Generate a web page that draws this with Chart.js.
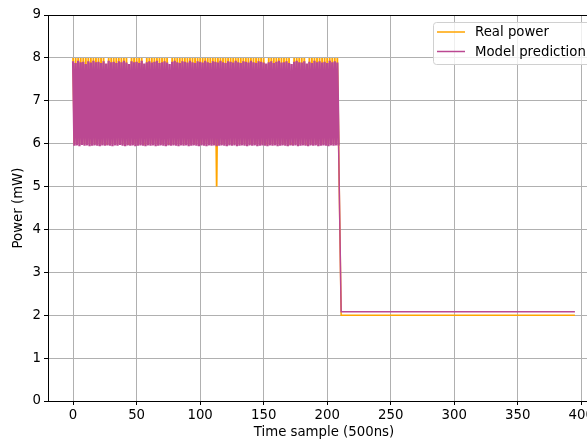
<!DOCTYPE html>
<html>
<head>
<meta charset="utf-8">
<script src="https://cdn.jsdelivr.net/npm/chart.js@4/dist/chart.umd.min.js"></script>
<style>
  html, body { margin: 0; padding: 0; background: #fff; overflow: hidden; }
  #wrap { width: 587px; height: 441px; overflow: hidden; }
</style>
</head>
<body>
<div id="wrap"><canvas id="chart" width="620" height="441"></canvas></div>
<script>
// samples 0..209, one value per sample
const realPower = [
    8, 6, 8, 6, 8, 6, 8, 6, 8, 6, 8, 6, 8, 6, 8, 6, 8, 6, 8, 6,
    8, 6, 8, 6, 8, 6, 6, 6, 8, 6, 8, 6, 8, 6, 8, 6, 8, 6, 8, 6,
    8, 6, 8, 6, 6, 6, 8, 6, 8, 6, 8, 6, 8, 6, 8, 6, 6, 6, 8, 6,
    8, 6, 8, 6, 8, 6, 8, 6, 8, 6, 8, 6, 8, 6, 8, 6, 6, 6, 8, 6,
    8, 6, 8, 6, 8, 6, 8, 6, 8, 6, 8, 6, 8, 6, 8, 6, 8, 6, 8, 6,
    8, 6, 8, 6, 8, 6, 8, 6, 8, 6, 8, 6, 8, 5, 8, 6, 8, 6, 8, 6,
    8, 6, 8, 6, 8, 6, 8, 6, 8, 6, 8, 6, 8, 6, 8, 6, 8, 6, 8, 6,
    8, 6, 8, 6, 8, 6, 8, 6, 8, 6, 8, 6, 6, 6, 8, 6, 8, 6, 8, 6,
    8, 6, 8, 6, 8, 6, 8, 6, 8, 6, 8, 6, 6, 6, 8, 6, 8, 6, 8, 6,
    8, 6, 8, 6, 6, 6, 8, 6, 8, 6, 8, 6, 8, 6, 8, 6, 8, 6, 8, 6,
    8, 6, 8, 6, 8, 6, 8, 6, 8, 6,
];
const modelPrediction = [
    7.92, 5.95, 7.88, 5.96, 7.93, 5.94, 7.90, 5.97, 7.91, 5.95, 7.86, 5.96, 7.92, 5.94, 7.89, 5.95, 7.93, 5.96, 7.90, 5.95,
    7.91, 5.94, 7.88, 5.96, 7.92, 5.95, 7.87, 5.96, 7.93, 5.95, 7.90, 5.94, 7.91, 5.96, 7.88, 5.95, 7.92, 5.97, 7.90, 5.95,
    7.93, 5.94, 7.89, 5.96, 7.86, 5.95, 7.92, 5.96, 7.90, 5.94, 7.91, 5.95, 7.88, 5.96, 7.93, 5.95, 7.87, 5.94, 7.90, 5.96,
    7.92, 5.95, 7.89, 5.96, 7.91, 5.94, 7.93, 5.95, 7.88, 5.96, 7.90, 5.95, 7.92, 5.94, 7.89, 5.96, 7.86, 5.95, 7.91, 5.96,
    7.93, 5.95, 7.90, 5.94, 7.88, 5.96, 7.92, 5.95, 7.91, 5.96, 7.89, 5.94, 7.93, 5.95, 7.90, 5.96, 7.88, 5.95, 7.92, 5.94,
    7.91, 5.96, 7.89, 5.95, 7.93, 5.94, 7.90, 5.96, 7.88, 5.95, 7.92, 5.96, 7.91, 5.94, 7.89, 5.95, 7.93, 5.96, 7.90, 5.95,
    7.88, 5.94, 7.92, 5.96, 7.91, 5.95, 7.89, 5.96, 7.93, 5.94, 7.90, 5.95, 7.88, 5.96, 7.92, 5.95, 7.91, 5.94, 7.89, 5.96,
    7.93, 5.95, 7.90, 5.96, 7.88, 5.94, 7.92, 5.95, 7.91, 5.96, 7.89, 5.95, 7.87, 5.94, 7.90, 5.96, 7.92, 5.95, 7.88, 5.96,
    7.91, 5.94, 7.93, 5.95, 7.89, 5.96, 7.90, 5.95, 7.92, 5.94, 7.88, 5.96, 7.86, 5.95, 7.91, 5.96, 7.93, 5.94, 7.90, 5.95,
    7.89, 5.96, 7.92, 5.95, 7.87, 5.94, 7.91, 5.96, 7.88, 5.95, 7.93, 5.96, 7.90, 5.94, 7.92, 5.95, 7.89, 5.96, 7.91, 5.95,
    7.88, 5.94, 7.93, 5.96, 7.90, 5.95, 7.92, 5.96, 7.89, 5.95,
];
// flat part after the drop
const tailSamples = [211, 395];
const realTail = [2, 2];
const modelTail = [2.08, 2.08];

const xTicks = [0, 50, 100, 150, 200, 250, 300, 350, 400];
const yTicks = [0, 1, 2, 3, 4, 5, 6, 7, 8, 9];
const seriesNames = ['Real power', 'Model prediction'];
const seriesColors = ['#ffa500', '#bb4892'];

const FONT = 'DejaVu Sans';

function toPoints(values, tailY) {
    const pts = values.map((y, i) => ({ x: i, y: y }));
    tailSamples.forEach((x, k) => pts.push({ x: x, y: tailY[k] }));
    return pts;
}

// dense part drawn a bit heavier so it fills like the original render
function segWidth(dense) {
    return (ctx) => (ctx.p0.parsed.x >= 209 ? 1.5 : dense);
}

const frame = {
    id: 'frame',
    afterDraw(chart) {
        const { ctx, chartArea: a } = chart;
        ctx.save();
        ctx.strokeStyle = '#000';
        ctx.lineWidth = 1;
        ctx.strokeRect(Math.round(a.left) + 0.5, Math.round(a.top) + 0.5,
            Math.round(a.right - a.left), Math.round(a.bottom - a.top));

        // legend box, upper right inside the axes
        const bx = 433, by = 22, bw = 200, bh = 42, r = 3;
        ctx.beginPath();
        ctx.roundRect(bx + 0.5, by + 0.5, bw, bh, r);
        ctx.fillStyle = 'rgba(255,255,255,0.8)';
        ctx.fill();
        ctx.strokeStyle = '#d0d0d0';
        ctx.stroke();
        ctx.font = '13.3px "' + FONT + '"';
        ctx.textBaseline = 'middle';
        ctx.fillStyle = '#000';
        seriesNames.forEach((name, i) => {
            const y = 32 + i * 19.5;
            ctx.beginPath();
            ctx.moveTo(437, y);
            ctx.lineTo(465, y);
            ctx.strokeStyle = seriesColors[i];
            ctx.lineWidth = 1.5;
            ctx.stroke();
            ctx.fillText(name, 475, y + 1);
        });
        ctx.restore();
    },
};

new Chart(document.getElementById('chart'), {
    type: 'line',
    data: {
        datasets: [{
            label: seriesNames[0],
            data: toPoints(realPower, realTail),
            borderColor: seriesColors[0],
            borderWidth: 1.8,
            segment: { borderWidth: segWidth(1.8) },
            pointRadius: 0,
            tension: 0,
            fill: false,
            order: 1,
        }, {
            label: seriesNames[1],
            data: toPoints(modelPrediction, modelTail),
            borderColor: seriesColors[1],
            borderWidth: 2.3,
            segment: { borderWidth: segWidth(2.3) },
            pointRadius: 0,
            tension: 0,
            fill: false,
            order: 0,
        }],
    },
    options: {
        responsive: false,
        animation: false,
        parsing: false,
        layout: { padding: { left: 0, top: 15, right: 20, bottom: 0 } },
        plugins: {
            legend: { display: false },
            tooltip: { enabled: false },
        },
        scales: {
            x: {
                type: 'linear',
                min: -19.75,
                max: 414.75,
                afterBuildTicks: (axis) => { axis.ticks = xTicks.map(v => ({ value: v })); },
                afterFit: (axis) => { axis.height = 40; },
                border: { display: false },
                grid: { color: '#b0b0b0', lineWidth: 1, tickColor: '#000', tickLength: 4 },
                ticks: {
                    color: '#000',
                    padding: 3,
                    maxRotation: 0,
                    font: { family: FONT, size: 13.3 },
                },
                title: {
                    display: true,
                    text: 'Time sample (500ns)',
                    color: '#000',
                    padding: { top: 0, bottom: 0 },
                    font: { family: FONT, size: 13.3 },
                },
            },
            y: {
                min: 0,
                max: 9,
                afterBuildTicks: (axis) => { axis.ticks = yTicks.map(v => ({ value: v })); },
                afterFit: (axis) => { axis.width = 48; },
                border: { display: false },
                grid: { color: '#b0b0b0', lineWidth: 1, tickColor: '#000', tickLength: 4 },
                ticks: {
                    color: '#000',
                    padding: 3,
                    font: { family: FONT, size: 13.3 },
                },
                title: {
                    display: true,
                    text: 'Power (mW)',
                    color: '#000',
                    padding: { top: 11, bottom: 0 },
                    font: { family: FONT, size: 13.3 },
                },
            },
        },
    },
    plugins: [frame],
});
</script>
</body>
</html>
